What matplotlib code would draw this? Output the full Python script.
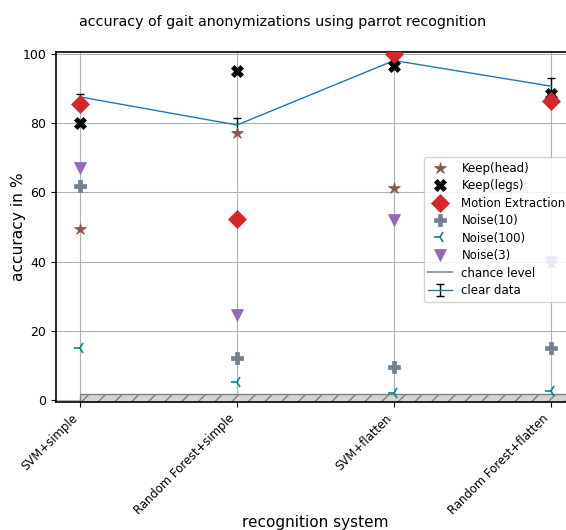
import matplotlib
matplotlib.use("Agg")
import matplotlib.pyplot as plt
import numpy as np

systems = ["SVM+simple", "Random Forest+simple", "SVM+flatten", "Random Forest+flatten"]

clear_acc = [87.5, 79.4, 98.0, 90.6]
clear_err = [0.9, 1.9, 0.4, 2.3]

keep_head = [49.3, 77.1, 61.2, 39.6]
keep_legs = [80.0, 95.0, 96.3, 88.4]
motion_extraction = [85.4, 52.3, 99.9, 86.2]
noise_10 = [61.7, 12.2, 9.7, 15.2]
noise_100 = [15.1, 5.3, 2.2, 2.7]
noise_3 = [67.0, 24.5, 51.9, 40.0]

chance = 1.8

fig = plt.figure(figsize=(5.66, 5.30), dpi=100)
ax = fig.add_axes([0.099, 0.2415, 0.917, 0.660])

x = np.arange(len(systems))

ax.grid(True, color="#b0b0b0", linewidth=0.8, zorder=0)
ax.set_axisbelow(True)

# chance band along the bottom
ax.fill_between([0, len(systems) - 1 + 0.3], -1, chance, facecolor="#d3d3d3",
                edgecolor="#808080", hatch="//", linewidth=1.0, zorder=1)
chance_line, = ax.plot([], [], color="#a0a0a0", linewidth=1.5)

clear = ax.errorbar(x, clear_acc, yerr=clear_err, color="tab:blue", linewidth=1,
                    ecolor="black", elinewidth=1, capsize=3, zorder=2)

styles = [
    ("Keep(head)", keep_head, "*", "tab:brown", 9),
    ("Keep(legs)", keep_legs, "X", "black", 8),
    ("Motion Extraction", motion_extraction, "D", "tab:red", 9),
    ("Noise(10)", noise_10, "P", "slategray", 9),
    ("Noise(100)", noise_100, "3", "darkcyan", 9),
    ("Noise(3)", noise_3, "v", "tab:purple", 9),
]
handles = []
for label, vals, marker, color, size in styles:
    h, = ax.plot(x, vals, linestyle="none", marker=marker, color=color,
                 markersize=size, markeredgewidth=1.2 if marker == "3" else 0.5,
                 label=label, zorder=3)
    handles.append(h)

handles += [chance_line, clear]
labels = [s[0] for s in styles] + ["chance level", "clear data"]

ax.set_xlim(-0.153, 3.153)
ax.set_ylim(-0.5, 100.4)
ax.set_yticks(range(0, 101, 20))
ax.set_xticks(x)
ax.set_xticklabels(systems, rotation=45, ha="right", fontsize=8.4)
ax.tick_params(axis="y", labelsize=9)
for side in ["top", "bottom", "left", "right"]:
    ax.spines[side].set_linewidth(1.2)

ax.set_ylabel("accuracy in %", fontsize=11.2)
ax.yaxis.set_label_coords(-0.058, 0.5)
ax.set_xlabel("recognition system", fontsize=11)
ax.xaxis.set_label_coords(0.5, -0.323)
fig.text(0.5, 0.958, "accuracy of gait anonymizations using parrot recognition",
         ha="center", va="center", fontsize=10.3)

fig.legend(handles, labels, loc="upper left", bbox_to_anchor=(0.738, 0.715),
           fontsize=8.5, framealpha=0.85, labelspacing=0.38)

fig.savefig("out.png", dpi=100)
